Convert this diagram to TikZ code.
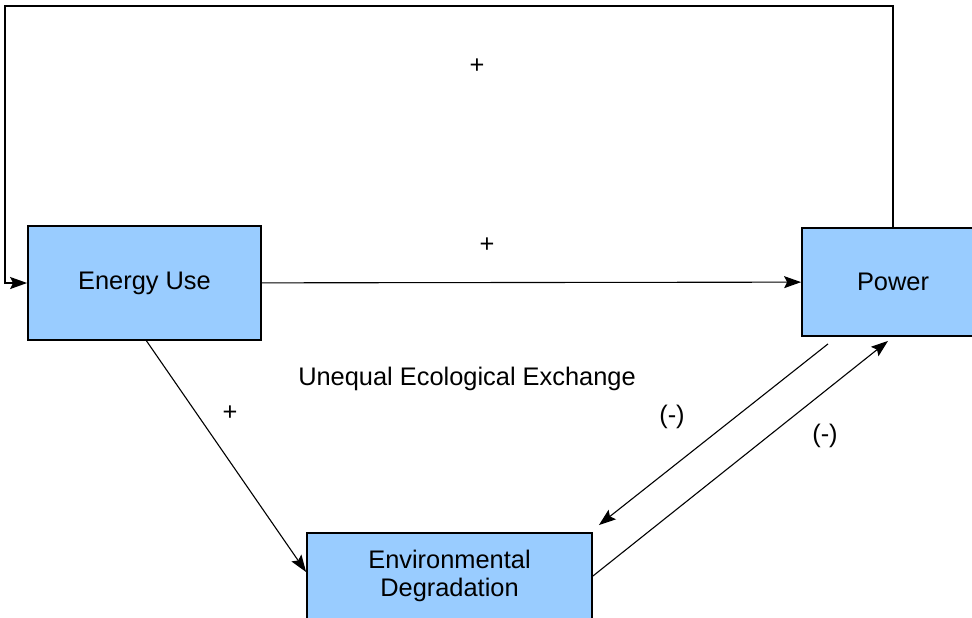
\documentclass[tikz,border=0pt]{standalone}
\usepackage{fontspec}
\setmainfont{Liberation Sans}
\usetikzlibrary{arrows.meta}
\definecolor{boxblue}{RGB}{153,204,255}

\begin{document}
\begin{tikzpicture}[x=0.5pt, y=-0.5pt, >={Stealth[length=8.5pt,width=6pt,inset=1.5pt]},
    font=\fontsize{12.7}{14.3}\selectfont,
    box/.style={draw=black, line width=0.9pt, fill=boxblue, inner sep=0pt, align=center},
    link/.style={->, line width=0.55pt},
    sign/.style={inner sep=0pt}]
    \clip (0,0) rectangle (972,617);

    % Boxes {energy, power, env}
    \node [box, minimum width=116.5pt, minimum height=57pt]   (energy) at (144.5,283) {Energy Use};
    \node [box, minimum width=91pt,    minimum height=54pt]   (power)  at (893,282)   {Power};
    \node [box, minimum width=142.5pt, minimum height=43pt]   (env)    at (449.5,576) {Environmental\\Degradation};
    \coordinate (loop) at (5,6);

    % Paths
    \draw [link, line width=0.9pt] (power.north) |- (loop) |- (energy.west);
    \draw [link] (energy) -- (power);
    \draw [link] ([xshift=1pt]energy.south) -- ([yshift=2pt]env.west);
    \draw [link] ([xshift=-32.5pt,yshift=-3.5pt]power.south) -- ([xshift=3pt,yshift=3.5pt]env.north east);
    \draw [link] (env.east) -- ([xshift=-2.5pt,yshift=-2pt]power.south);

    % Labels
    \node [sign] (plustop)   at (477,66)  {+};
    \node [sign] (plusmid)   at (487,245) {+};
    \node [sign] (plusleft)  at (230,413) {+};
    \node [sign] (minusin)   at (672,417) {(-)};
    \node [sign] (minusout)  at (825,436) {(-)};
    \node [sign] (exchange)  at (467,379) {Unequal Ecological Exchange};
\end{tikzpicture}
\end{document}
